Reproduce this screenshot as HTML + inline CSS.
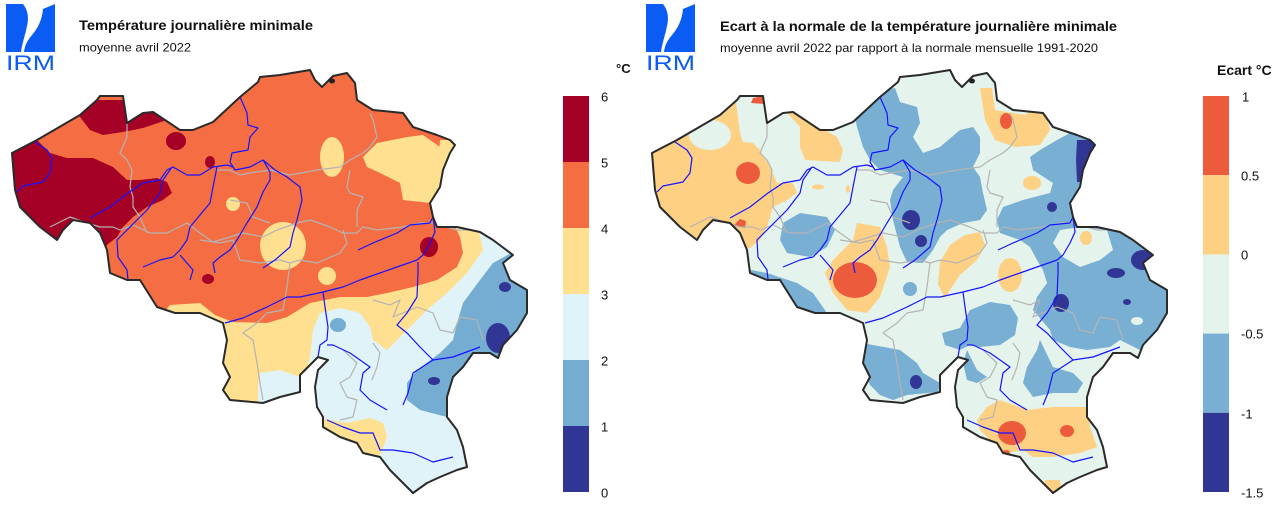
<!DOCTYPE html>
<html><head><meta charset="utf-8"><style>
html,body{margin:0;padding:0;background:#fff;}
svg{display:block;font-family:"Liberation Sans",Arial,sans-serif;}
</style></head><body>
<svg width="1280" height="507" viewBox="0 0 1280 507" xmlns="http://www.w3.org/2000/svg">
<defs>
<clipPath id="bc"><path id="bep" d="M12,153 L37,140 L80,115 L97,100 L100,96 L123,96 L127,123 L143,113 L153,112 L180,130 L193,130 L213,122 L240,97 L258,82 L260,77 L280,75 L310,70 L315,80 L322,87 L333,76 L347,73 L355,83 L357,100 L373,110 L403,113 L413,127 L437,135 L450,140 L455,145 L450,153 L443,170 L440,187 L430,203 L433,217 L437,227 L457,227 L480,232 L493,240 L513,255 L503,263 L510,280 L527,290 L527,313 L517,330 L503,345 L498,358 L490,353 L473,353 L463,367 L453,377 L447,397 L447,417 L457,430 L463,447 L467,467 L457,470 L440,477 L427,483 L413,493 L403,483 L390,470 L380,457 L363,453 L357,443 L340,437 L323,427 L323,417 L317,407 L315,387 L318,370 L328,360 L318,357 L300,375 L300,392 L280,397 L263,403 L230,400 L223,390 L230,377 L223,363 L227,340 L223,323 L200,313 L175,313 L157,307 L140,280 L127,280 L110,273 L107,250 L100,233 L90,223 L73,220 L63,230 L57,240 L40,227 L20,207 L15,190 Z"/></clipPath>
<g id="lines">
<g fill="none" stroke="#b4b4b4" stroke-width="1.2" stroke-linejoin="round">
<polyline points="123,97 127,123 127,137 120,153 127,160 132,170 130,187 133,197 133,207 140,217 147,233"/>
<polyline points="50,227 70,217 87,223 100,227 113,227 120,230 133,225 150,233 167,233 187,223 200,233 213,242 230,237 243,233 263,237 277,230 297,223 310,220 330,227 343,233 357,233 363,227 377,230 403,227 420,223 433,223 457,230 467,230"/>
<polyline points="217,170 230,170 240,175 250,173 270,170 290,175 317,170 340,167 350,160 363,153 370,147 377,137 373,120 370,113"/>
<polyline points="230,200 247,203 253,217 270,223"/>
<polyline points="350,170 347,187 350,193 363,197 357,210 357,227"/>
<polyline points="200,240 220,243 233,240 240,260 260,263 280,260 290,263 300,260 317,263 340,253 347,243 343,230"/>
<polyline points="290,263 287,287 283,310 267,313 257,323 243,333 253,340 257,363 260,383 263,400"/>
<polyline points="343,350 357,363 350,377 340,383 347,397 357,400 353,417 340,420"/>
<polyline points="373,300 390,305 400,300 393,317 417,307 433,313 440,330 453,333 460,317 477,320 483,340"/>
<polyline points="373,343 380,353 377,367 372,380"/>
</g>
<g fill="none" stroke="#1414ff" stroke-width="1.2" stroke-linejoin="round">
<polyline points="35,142 47,150 52,158 50,173 43,182 23,186 17,192"/>
<polyline points="90,218 110,207 128,193 143,183 160,180 167,170 173,167 187,175 200,175 213,167 227,165 233,167"/>
<polyline points="172,167 163,180 160,193 147,210 127,230 117,240 118,257 127,270 128,280"/>
<polyline points="240,97 247,113 248,125 258,128 250,137 248,150 232,153 230,162 235,170 250,167 263,160 270,172 270,180 263,192 257,207 247,223 237,240 230,250 220,257 213,263 215,273"/>
<polyline points="217,167 213,187 210,203 200,215 190,227 187,240 180,250 173,257 160,260 143,267"/>
<polyline points="180,255 193,270 190,280"/>
<polyline points="263,160 275,170 287,177 300,187 302,200 297,220 293,233 290,247 275,260 263,268"/>
<polyline points="358,250 373,243 397,233 410,225 430,223 433,217"/>
<polyline points="433,217 435,232 430,243 423,255 417,260 397,267 380,273 360,280 343,287 323,292 300,297 287,297 267,307 243,318 225,323"/>
<polyline points="323,292 325,307 328,327 327,340 320,345 318,357"/>
<polyline points="327,345 333,345 350,353 370,367 363,373 360,390 370,400 387,410"/>
<polyline points="418,262 418,273 417,297 407,313 397,325 407,333 420,347 433,360 453,357 480,347"/>
<polyline points="433,360 413,373 408,393 403,405"/>
<polyline points="327,420 343,427 360,433 373,433 380,450 393,450 413,453 433,462 453,457"/>
</g>
</g>
</defs>

<!-- ===== LEFT ===== -->
<g fill="#0b5cf5">
<path d="M6,4 L23,4 C28,10 29,18 27,26 C25,36 22,44 21,52 L6,52 Z"/>
<path d="M43,9 L55,4 L55,52 L24,52 C25,44 28,40 32,35 C38,28 42,20 43,9 Z"/>
<text x="6" y="70" font-size="21" textLength="49" lengthAdjust="spacingAndGlyphs">IRM</text>
</g>
<text x="79" y="30" font-size="14" font-weight="bold" fill="#111" textLength="234" lengthAdjust="spacingAndGlyphs">Température journalière minimale</text>
<text x="79" y="51.5" font-size="12" fill="#111" textLength="112" lengthAdjust="spacingAndGlyphs">moyenne avril 2022</text>

<g clip-path="url(#bc)">
<rect x="0" y="60" width="560" height="450" fill="#f46d43"/>
<polygon fill="#a50026" points="0,140 12,150 37,140 50,153 67,158 93,158 113,167 127,180 140,180 157,178 167,182 172,193 163,200 147,207 133,217 123,227 117,237 107,245 100,260 0,260"/>
<polygon fill="#a50026" points="72,100 80,117 90,130 103,135 123,132 143,128 167,120 175,100"/>
<ellipse cx="176" cy="141" rx="10" ry="9" fill="#a50026"/>
<ellipse cx="210" cy="162" rx="5" ry="6" fill="#a50026"/>
<ellipse cx="208" cy="279" rx="6" ry="5" fill="#a50026"/>
<ellipse cx="429" cy="247" rx="9" ry="10" fill="#a50026"/>
<ellipse cx="332" cy="157" rx="12" ry="20" fill="#fee090"/>
<polygon fill="#fee090" points="363,157 377,143 407,137 423,135 440,147 447,157 443,187 430,203 403,200 400,183 380,173 367,167"/>
<polygon fill="#fee090" points="440,140 470,140 470,200 435,200"/>
<ellipse cx="233" cy="204" rx="7" ry="7" fill="#fee090"/>
<ellipse cx="283" cy="246" rx="23" ry="24" fill="#fee090"/>
<ellipse cx="327" cy="276" rx="9" ry="9" fill="#fee090"/>
<polygon fill="#fee090" points="150,330 170,305 200,303 215,315 233,322 267,323 287,317 310,303 340,297 367,297 387,293 413,287 437,280 457,267 463,253 460,237 455,227 447,220 540,215 540,510 0,510 0,330"/>
<polygon fill="#e0f3f8" points="477,222 540,222 540,510 258,510 258,387 260,373 280,370 300,377 307,370 310,357 313,330 320,313 340,308 360,313 370,327 373,340 387,350 407,330 427,310 447,293 467,273 483,250"/>
<polygon fill="#fee090" points="315,417 330,420 347,423 370,418 383,423 387,437 380,455 365,462 330,445 312,428"/>
<ellipse cx="409" cy="494" rx="5" ry="4" fill="#fee090"/>
<polygon fill="#74add1" points="520,245 513,252 493,263 480,280 463,303 457,323 453,340 440,353 417,370 407,383 407,400 420,410 447,417 540,417 540,245"/>
<ellipse cx="338" cy="325" rx="8" ry="7" fill="#74add1"/>
<ellipse cx="505" cy="287" rx="6" ry="5" fill="#313695"/>
<ellipse cx="498" cy="338" rx="12" ry="15" fill="#313695"/>
<ellipse cx="434" cy="381" rx="6" ry="4" fill="#313695"/>
<use href="#lines"/>
</g>
<use href="#bep" fill="none" stroke="#2a2a2a" stroke-width="2" stroke-linejoin="round"/>
<ellipse cx="332" cy="81" rx="3" ry="2.5" fill="#222"/>

<rect x="563" y="96" width="26" height="66" fill="#a50026"/>
<rect x="563" y="162" width="26" height="66" fill="#f46d43"/>
<rect x="563" y="228" width="26" height="66" fill="#fee090"/>
<rect x="563" y="294" width="26" height="66" fill="#e0f3f8"/>
<rect x="563" y="360" width="26" height="66" fill="#74add1"/>
<rect x="563" y="426" width="26" height="66" fill="#313695"/>
<g font-size="13" fill="#111">
<text x="601" y="101.5">6</text><text x="601" y="167.5">5</text><text x="601" y="233.5">4</text>
<text x="601" y="299.5">3</text><text x="601" y="365.5">2</text><text x="601" y="431.5">1</text><text x="601" y="497.5">0</text>
</g>
<text x="616" y="73" font-size="13" font-weight="bold" fill="#111">°C</text>

<!-- ===== RIGHT ===== -->
<g transform="translate(640,0)">
<g fill="#0b5cf5">
<path d="M6,4 L23,4 C28,10 29,18 27,26 C25,36 22,44 21,52 L6,52 Z"/>
<path d="M43,9 L55,4 L55,52 L24,52 C25,44 28,40 32,35 C38,28 42,20 43,9 Z"/>
<text x="6" y="70" font-size="21" textLength="49" lengthAdjust="spacingAndGlyphs">IRM</text>
</g>
<g clip-path="url(#bc)">
<rect x="0" y="60" width="560" height="450" fill="#e4f3ec"/>
<polygon fill="#fdd083" points="0,95 95,95 100,133 103,142 113,143 120,150 130,167 137,183 153,183 157,193 147,200 133,207 127,227 120,240 110,248 0,260"/>
<ellipse cx="70" cy="135" rx="21" ry="15" fill="#e4f3ec"/>
<ellipse cx="108" cy="173" rx="12" ry="11" fill="#ec5b3c"/>
<polygon fill="#ec5b3c" points="111,103 113,98 124,96 124,104"/>
<polygon fill="#ec5b3c" points="94,225 100,219 106,221 105,228"/>
<polygon fill="#fdd083" points="140,105 160,127 160,147 165,160 200,162 203,150 197,137 180,127 176,105"/>
<ellipse cx="178" cy="187" rx="6" ry="2.5" fill="#fdd083"/>
<ellipse cx="208" cy="189" rx="2" ry="4" fill="#fdd083"/>
<polygon fill="#78afd3" points="210,95 217,127 223,147 230,160 240,170 263,177 253,190 250,200 253,220 260,247 267,262 283,263 293,250 300,237 307,230 323,223 340,220 347,210 343,193 340,177 333,167 340,153 340,137 333,127 320,130 300,147 283,153 273,137 280,123 277,107 260,102 255,88"/>
<ellipse cx="271" cy="220" rx="9" ry="10" fill="#313695"/>
<ellipse cx="281" cy="241" rx="6" ry="6" fill="#313695"/>
<polygon fill="#fdd083" points="340,88 345,120 355,140 375,147 400,145 410,130 405,110 395,108 385,115 355,110 352,88"/>
<ellipse cx="366" cy="121" rx="6" ry="8" fill="#ec5b3c"/>
<polygon fill="#78afd3" points="390,157 393,170 413,183 410,193 383,200 363,207 357,220 360,233 380,240 390,247 397,260 403,270 407,283 397,297 393,310 410,330 413,340 430,347 447,350 470,347 480,340 500,350 513,347 540,340 540,130 440,130 430,133 417,140 400,150"/>
<polygon fill="#e4f3ec" points="420,230 440,227 467,230 473,250 460,260 440,267 423,257 413,243"/>
<ellipse cx="446" cy="238" rx="6" ry="7" fill="#fdd083"/>
<ellipse cx="392" cy="183" rx="9" ry="7" fill="#fdd083"/>
<ellipse cx="497" cy="321" rx="6" ry="4" fill="#e4f3ec"/>
<polygon fill="#313695" points="437,140 455,140 460,150 452,165 447,182 437,182 436,160"/>
<ellipse cx="412" cy="207" rx="5" ry="5" fill="#313695"/>
<ellipse cx="503" cy="260" rx="12" ry="10" fill="#313695"/>
<ellipse cx="476" cy="273" rx="9" ry="5" fill="#313695"/>
<ellipse cx="487" cy="302" rx="4" ry="3" fill="#313695"/>
<ellipse cx="421" cy="303" rx="8" ry="9" fill="#313695"/>
<polygon fill="#78afd3" points="143,223 160,213 187,217 195,230 187,247 170,257 147,253 140,240"/>
<polygon fill="#fdd083" points="217,223 240,227 247,247 250,267 240,297 227,313 207,310 193,293 185,273 193,260 213,240"/>
<ellipse cx="215" cy="280" rx="22" ry="18" fill="#ec5b3c"/>
<ellipse cx="270" cy="289" rx="7" ry="7" fill="#78afd3"/>
<polygon fill="#fdd083" points="300,262 310,245 325,235 340,232 345,245 337,260 320,275 310,290 305,298 298,285"/>
<ellipse cx="370" cy="275" rx="12" ry="17" fill="#fdd083"/>
<polygon fill="#78afd3" points="100,268 127,273 157,283 173,293 187,313 192,325 100,325"/>
<polygon fill="#78afd3" points="222,343 260,350 277,363 283,373 300,383 298,392 267,395 253,400 240,395 230,385 220,360"/>
<ellipse cx="276" cy="382" rx="6" ry="7" fill="#313695"/>
<polygon fill="#78afd3" points="302,333 320,328 330,310 350,302 370,305 378,318 375,335 360,345 340,347 330,345 320,350 305,345"/>
<polygon fill="#78afd3" points="327,350 337,370 347,377 337,383 327,380 323,363"/>
<polygon fill="#78afd3" points="400,340 413,367 433,373 443,383 437,393 413,393 393,397 383,383 387,367 397,350"/>
<polygon fill="#fdd083" points="337,420 347,407 360,400 387,410 413,407 447,407 450,427 457,447 440,453 413,457 393,457 383,450 367,453 353,443 340,430"/>
<ellipse cx="372" cy="433" rx="14" ry="12" fill="#ec5b3c"/>
<ellipse cx="427" cy="431" rx="7" ry="6" fill="#ec5b3c"/>
<ellipse cx="366" cy="453" rx="4" ry="3" fill="#ec5b3c"/>
<polygon fill="#fdd083" points="405,480 420,480 422,500 405,500"/>
<ellipse cx="449" cy="478" rx="3" ry="5" fill="#78afd3"/>
<use href="#lines"/>
</g>
<use href="#bep" fill="none" stroke="#2a2a2a" stroke-width="2" stroke-linejoin="round"/>
<ellipse cx="332" cy="81" rx="3" ry="2.5" fill="#222"/>
</g>
<text x="720" y="31" font-size="14" font-weight="bold" fill="#111" textLength="397" lengthAdjust="spacingAndGlyphs">Ecart à la normale de la température journalière minimale</text>
<text x="720" y="52" font-size="12" fill="#111" textLength="378" lengthAdjust="spacingAndGlyphs">moyenne avril 2022 par rapport à la normale mensuelle 1991-2020</text>

<rect x="1203" y="96" width="26" height="79.2" fill="#ec5b3c"/>
<rect x="1203" y="175.2" width="26" height="79.2" fill="#fdd083"/>
<rect x="1203" y="254.4" width="26" height="79.2" fill="#e4f3ec"/>
<rect x="1203" y="333.6" width="26" height="79.2" fill="#78afd3"/>
<rect x="1203" y="412.8" width="26" height="79.2" fill="#313695"/>
<g font-size="13" fill="#111">
<text x="1242" y="101.5">1</text><text x="1241" y="180.5">0.5</text><text x="1241" y="259.5">0</text>
<text x="1241" y="338.5">-0.5</text><text x="1241" y="418.5">-1</text><text x="1241" y="497.5">-1.5</text>
</g>
<text x="1217" y="75" font-size="14" font-weight="bold" fill="#111">Ecart °C</text>
</svg>
</body></html>
